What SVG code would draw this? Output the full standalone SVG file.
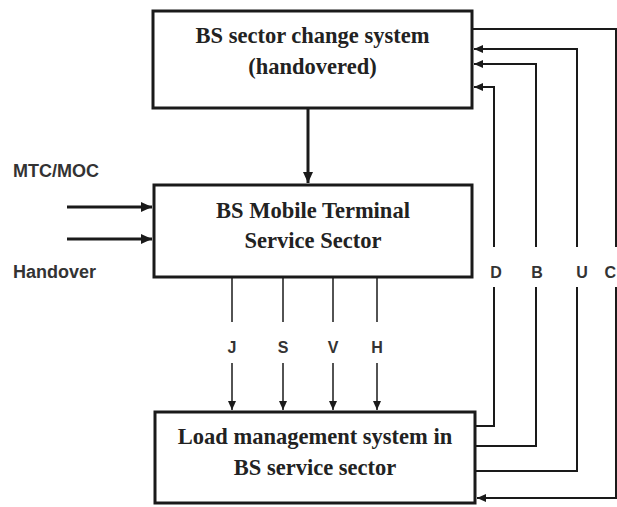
<svg xmlns="http://www.w3.org/2000/svg" width="617" height="507" viewBox="0 0 617 507">
<style>
.box{fill:#fff;stroke:#1a1a1a;stroke-width:3}
.title{font-family:"Liberation Serif","Times New Roman",serif;font-weight:bold;font-size:22.5px;fill:#222;text-anchor:middle}
.lbl{font-family:"Liberation Sans",Arial,sans-serif;font-weight:bold;font-size:16px;fill:#333;text-anchor:middle}
.in{font-family:"Liberation Sans",Arial,sans-serif;font-weight:bold;font-size:18px;fill:#333}
.c2{fill:none;stroke:#1a1a1a;stroke-width:2}
.c1{fill:none;stroke:#1a1a1a;stroke-width:1.5}
.c3{fill:none;stroke:#1a1a1a;stroke-width:3}
</style>
<defs>
<marker id="ah" markerUnits="userSpaceOnUse" markerWidth="10" markerHeight="10" refX="9" refY="5" orient="auto">
<path d="M0,1 L9,5 L0,9 z" fill="#1a1a1a"/>
</marker>
<marker id="ahb" markerUnits="userSpaceOnUse" markerWidth="12" markerHeight="12" refX="11" refY="6" orient="auto">
<path d="M0,1 L11,6 L0,11 z" fill="#1a1a1a"/>
</marker>
</defs>
<g id="node-sector-change">
<rect class="box" x="153" y="11" width="319" height="97"/>
<text class="title" x="312.5" y="43">BS sector change system</text>
<text class="title" x="312.5" y="74">(handovered)</text>
</g>
<g id="node-mobile-terminal">
<rect class="box" x="154" y="185" width="318" height="92"/>
<text class="title" x="313" y="218">BS Mobile Terminal</text>
<text class="title" x="313" y="248">Service Sector</text>
</g>
<g id="node-load-management">
<rect class="box" x="155" y="412" width="320" height="91"/>
<text class="title" x="315" y="444">Load management system in</text>
<text class="title" x="315" y="475">BS service sector</text>
</g>
<g id="connectors">
<line class="c3" x1="308" y1="108" x2="308" y2="183" marker-end="url(#ahb)"/>
<line class="c3" x1="67" y1="207" x2="152" y2="207" marker-end="url(#ahb)"/>
<line class="c3" x1="67" y1="239" x2="152" y2="239" marker-end="url(#ahb)"/>
<line class="c1" x1="232" y1="278" x2="232" y2="322"/>
<line class="c1" x1="232" y1="363" x2="232" y2="410" marker-end="url(#ah)"/>
<line class="c1" x1="283" y1="278" x2="283" y2="322"/>
<line class="c1" x1="283" y1="363" x2="283" y2="410" marker-end="url(#ah)"/>
<line class="c1" x1="333" y1="278" x2="333" y2="322"/>
<line class="c1" x1="333" y1="363" x2="333" y2="410" marker-end="url(#ah)"/>
<line class="c1" x1="377" y1="278" x2="377" y2="322"/>
<line class="c1" x1="377" y1="363" x2="377" y2="410" marker-end="url(#ah)"/>
<polyline class="c2" points="475,426 494,426 494,287"/>
<polyline class="c2" points="494,247 494,87 474,87" marker-end="url(#ah)"/>
<polyline class="c2" points="475,446 536,446 536,287"/>
<polyline class="c2" points="536,247 536,64 474,64" marker-end="url(#ah)"/>
<polyline class="c2" points="475,471 577,471 577,287"/>
<polyline class="c2" points="577,247 577,49 474,49" marker-end="url(#ah)"/>
<polyline class="c2" points="472,29 616,29 616,247"/>
<polyline class="c2" points="616,287 616,498 477,498" marker-end="url(#ah)"/>
</g>
<g id="labels">
<text class="in" x="13" y="177">MTC/MOC</text>
<text class="in" x="13" y="278">Handover</text>
<text class="lbl" x="232" y="353">J</text>
<text class="lbl" x="283" y="353">S</text>
<text class="lbl" x="333" y="353">V</text>
<text class="lbl" x="377" y="353">H</text>
<text class="lbl" x="496" y="278">D</text>
<text class="lbl" x="537" y="278">B</text>
<text class="lbl" x="582" y="278">U</text>
<text class="lbl" x="616" y="278" style="text-anchor:end">C</text>
</g>
</svg>
